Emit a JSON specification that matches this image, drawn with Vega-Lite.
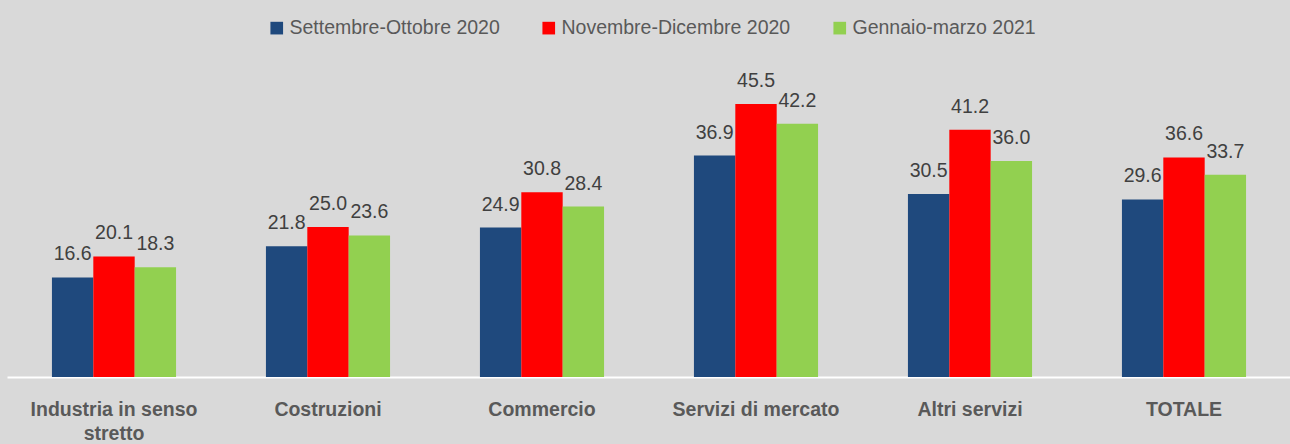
{
  "$schema": "https://vega.github.io/schema/vega-lite/v6.json",
  "width": 1284,
  "height": 300,
  "autosize": {"type": "none"},
  "padding": {"left": 7, "top": 77, "right": 0, "bottom": 67},
  "background": "#d9d9d9",
  "config": {
    "view": {"stroke": null},
    "font": "Liberation Sans"
  },
  "data": {
    "values": [
      {"settore": "Industria in senso stretto", "periodo": "Settembre-Ottobre 2020", "valore": 16.6},
      {"settore": "Industria in senso stretto", "periodo": "Novembre-Dicembre 2020", "valore": 20.1},
      {"settore": "Industria in senso stretto", "periodo": "Gennaio-marzo 2021", "valore": 18.3},
      {"settore": "Costruzioni", "periodo": "Settembre-Ottobre 2020", "valore": 21.8},
      {"settore": "Costruzioni", "periodo": "Novembre-Dicembre 2020", "valore": 25.0},
      {"settore": "Costruzioni", "periodo": "Gennaio-marzo 2021", "valore": 23.6},
      {"settore": "Commercio", "periodo": "Settembre-Ottobre 2020", "valore": 24.9},
      {"settore": "Commercio", "periodo": "Novembre-Dicembre 2020", "valore": 30.8},
      {"settore": "Commercio", "periodo": "Gennaio-marzo 2021", "valore": 28.4},
      {"settore": "Servizi di mercato", "periodo": "Settembre-Ottobre 2020", "valore": 36.9},
      {"settore": "Servizi di mercato", "periodo": "Novembre-Dicembre 2020", "valore": 45.5},
      {"settore": "Servizi di mercato", "periodo": "Gennaio-marzo 2021", "valore": 42.2},
      {"settore": "Altri servizi", "periodo": "Settembre-Ottobre 2020", "valore": 30.5},
      {"settore": "Altri servizi", "periodo": "Novembre-Dicembre 2020", "valore": 41.2},
      {"settore": "Altri servizi", "periodo": "Gennaio-marzo 2021", "valore": 36.0},
      {"settore": "TOTALE", "periodo": "Settembre-Ottobre 2020", "valore": 29.6},
      {"settore": "TOTALE", "periodo": "Novembre-Dicembre 2020", "valore": 36.6},
      {"settore": "TOTALE", "periodo": "Gennaio-marzo 2021", "valore": 33.7}
    ]
  },
  "encoding": {
    "x": {
      "field": "settore",
      "type": "nominal",
      "sort": null,
      "scale": {"paddingInner": 0.42, "paddingOuter": 0.21},
      "axis": {
        "title": null,
        "domainColor": "#ffffff",
        "domainWidth": 2,
        "ticks": false,
        "tickSize": 0,
        "labelAngle": 0,
        "labelFont": "Liberation Sans",
        "labelFontWeight": "bold",
        "labelFontSize": 19.5,
        "labelColor": "#595959",
        "labelPadding": 23,
        "labelLineHeight": 24,
        "labelLimit": 300,
        "labelBaseline": "top",
        "labelExpr": "datum.value == 'Industria in senso stretto' ? ['Industria in senso', 'stretto'] : datum.value"
      }
    },
    "xOffset": {
      "field": "periodo",
      "type": "nominal",
      "sort": ["Settembre-Ottobre 2020", "Novembre-Dicembre 2020", "Gennaio-marzo 2021"],
      "scale": {"paddingInner": 0, "paddingOuter": 0}
    },
    "y": {
      "field": "valore",
      "type": "quantitative",
      "scale": {"domain": [0, 50]},
      "axis": null
    }
  },
  "layer": [
    {
      "mark": {"type": "bar"},
      "encoding": {
        "color": {
          "field": "periodo",
          "type": "nominal",
          "sort": ["Settembre-Ottobre 2020", "Novembre-Dicembre 2020", "Gennaio-marzo 2021"],
          "scale": {
            "domain": ["Settembre-Ottobre 2020", "Novembre-Dicembre 2020", "Gennaio-marzo 2021"],
            "range": ["#1f497d", "#ff0000", "#92d050"]
          },
          "legend": {
            "title": null,
            "orient": "none",
            "direction": "horizontal",
            "legendX": 260,
            "legendY": -59,
            "symbolType": "square",
            "symbolSize": 160,
            "symbolOpacity": 1,
            "labelFont": "Liberation Sans",
            "labelFontSize": 19.5,
            "labelColor": "#595959",
            "labelOffset": 3,
            "columnPadding": 39,
            "labelLimit": 400
          }
        }
      }
    },
    {
      "mark": {
        "type": "text",
        "baseline": "alphabetic",
        "dy": -17,
        "font": "Liberation Sans",
        "fontSize": 19.5,
        "color": "#404040"
      },
      "encoding": {
        "text": {"field": "valore", "type": "quantitative", "format": ".1f"}
      }
    }
  ]
}
